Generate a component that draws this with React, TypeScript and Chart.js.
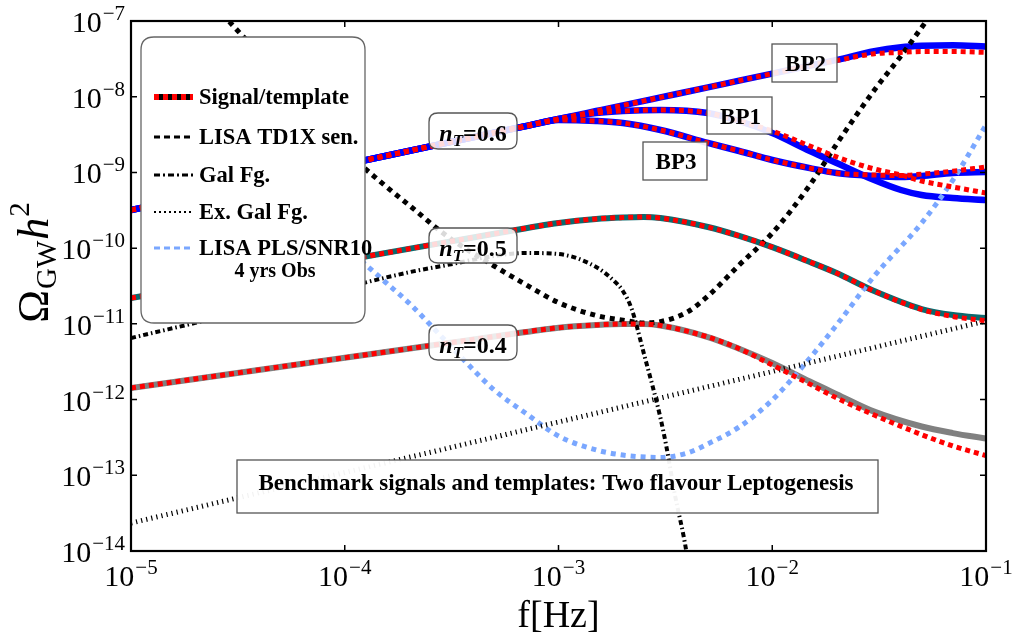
import React, { useEffect, useRef } from "react";
import { Chart, registerables } from "chart.js";

Chart.register(...registerables);

const SERIF = '"Liberation Serif", "Times New Roman", Times, serif';

// ---- axis ticks (powers of ten) ----
const xTickExps = [-5, -4, -3, -2, -1];
const yTickExps = [-14, -13, -12, -11, -10, -9, -8, -7];

// ---- Benchmark points (n_T = 0.6 family) ----
const fBP = [1e-5, 1e-4, 3e-4, 5e-4, 7e-4, 1e-3, 1.5e-3, 2e-3, 3e-3, 5e-3, 7e-3, 1e-2, 1.5e-2, 2e-2, 3e-2, 4e-2, 5e-2, 7e-2, 1e-1];
const bp2Signal = [3.19e-10, 1.27e-9, 2.46e-9, 3.34e-9, 4.08e-9, 5.07e-9, 6.47e-9, 7.69e-9, 9.8e-9, 1.33e-8, 1.63e-8, 2.02e-8, 2.58e-8, 3.06e-8, 4.0e-8, 4.5e-8, 4.7e-8, 4.8e-8, 4.6e-8];
const bp2Template = [3.19e-10, 1.27e-9, 2.46e-9, 3.34e-9, 4.08e-9, 5.07e-9, 6.47e-9, 7.69e-9, 9.8e-9, 1.33e-8, 1.63e-8, 2.02e-8, 2.58e-8, 3.0e-8, 3.7e-8, 3.85e-8, 3.95e-8, 3.95e-8, 3.85e-8];
const bp1Signal = [3.19e-10, 1.27e-9, 2.46e-9, 3.34e-9, 4.08e-9, 5.07e-9, 6.09e-9, 6.48e-9, 6.68e-9, 6.09e-9, 4.78e-9, 3.32e-9, 1.92e-9, 1.33e-9, 7.94e-10, 5.86e-10, 5.03e-10, 4.59e-10, 4.32e-10];
const bp1Template = [3.19e-10, 1.27e-9, 2.46e-9, 3.34e-9, 4.08e-9, 5.07e-9, 6.09e-9, 6.48e-9, 6.68e-9, 6.09e-9, 4.78e-9, 3.52e-9, 2.23e-9, 1.6e-9, 1.11e-9, 9.24e-10, 7.7e-10, 6.42e-10, 5.35e-10];
const bp3Signal = [3.19e-10, 1.27e-9, 2.46e-9, 3.34e-9, 4.08e-9, 4.93e-9, 4.78e-9, 4.49e-9, 3.63e-9, 2.45e-9, 1.92e-9, 1.46e-9, 1.14e-9, 9.82e-10, 8.97e-10, 8.7e-10, 8.97e-10, 9.82e-10, 1.01e-9];
const bp3Template = [3.19e-10, 1.27e-9, 2.46e-9, 3.34e-9, 4.08e-9, 4.93e-9, 4.78e-9, 4.49e-9, 3.63e-9, 2.45e-9, 1.92e-9, 1.46e-9, 1.14e-9, 9.82e-10, 9.24e-10, 9.1e-10, 9.5e-10, 1.04e-9, 1.18e-9];

// ---- n_T = 0.5 and 0.4 curves ----
const fN = [1e-5, 1e-4, 3e-4, 5e-4, 1e-3, 1.5e-3, 2e-3, 2.5e-3, 3e-3, 5e-3, 7e-3, 1e-2, 1.5e-2, 2e-2, 3e-2, 5e-2, 7e-2, 1e-1];
const nt05Signal = [2.19e-11, 6.93e-11, 1.2e-10, 1.55e-10, 2.15e-10, 2.43e-10, 2.54e-10, 2.58e-10, 2.5e-10, 1.9e-10, 1.45e-10, 1.03e-10, 6.56e-11, 4.69e-11, 2.71e-11, 1.57e-11, 1.31e-11, 1.19e-11];
const nt05Template = [2.19e-11, 6.93e-11, 1.2e-10, 1.55e-10, 2.15e-10, 2.43e-10, 2.54e-10, 2.58e-10, 2.5e-10, 1.9e-10, 1.45e-10, 1.03e-10, 6.56e-11, 4.69e-11, 2.71e-11, 1.55e-11, 1.25e-11, 1.1e-11];
const nt04Signal = [1.42e-12, 3.57e-12, 5.54e-12, 6.79e-12, 8.9e-12, 9.66e-12, 9.95e-12, 9.95e-12, 9.51e-12, 6.7e-12, 4.7e-12, 3.04e-12, 1.73e-12, 1.18e-12, 6.93e-13, 4.41e-13, 3.61e-13, 3.05e-13];
const nt04Template = [1.42e-12, 3.57e-12, 5.54e-12, 6.79e-12, 8.9e-12, 9.66e-12, 9.95e-12, 9.95e-12, 9.51e-12, 6.7e-12, 4.7e-12, 2.86e-12, 1.6e-12, 1.05e-12, 6.25e-13, 3.44e-13, 2.44e-13, 1.82e-13];

// ---- LISA TD1X sensitivity ----
const fLisa = [2e-5, 3e-5, 5e-5, 7e-5, 1e-4, 1.5e-4, 2e-4, 3e-4, 5e-4, 7e-4, 1e-3, 1.5e-3, 2e-3, 2.5e-3, 3e-3, 4e-3, 5e-3, 7e-3, 1e-2, 1.5e-2, 2e-2, 3e-2, 4e-2, 5e-2, 7e-2];
const lisaSens = [3.0e-7, 8.67e-8, 1.87e-8, 6.56e-9, 2.0e-9, 7.16e-10, 3.69e-10, 1.45e-10, 5.81e-11, 3.33e-11, 1.91e-11, 1.29e-11, 1.12e-11, 1.03e-11, 1.07e-11, 1.43e-11, 2.33e-11, 5.98e-11, 1.58e-10, 6.82e-10, 2.37e-9, 1.22e-8, 3.45e-8, 8.2e-8, 3.0e-7];

// ---- Galactic foreground ----
const fGal = [1e-5, 2e-5, 5e-5, 1e-4, 2e-4, 3e-4, 5e-4, 7e-4, 1e-3, 1.5e-3, 1.8e-3, 2e-3, 2.2e-3, 2.5e-3, 3e-3, 3.2e-3, 3.5e-3, 4e-3, 4.5e-3];
const galFg = [6.5e-12, 1.03e-11, 1.9e-11, 3.02e-11, 4.8e-11, 5.98e-11, 7.87e-11, 8.63e-11, 8.36e-11, 5.64e-11, 3.79e-11, 2.72e-11, 1.57e-11, 4.2e-12, 5.7e-13, 2.36e-13, 5.65e-14, 8.3e-15, 5e-16];

// ---- Extra-galactic foreground ----
const fExGal = [1e-5, 1e-1];
const exGalFg = [2.34e-14, 1.09e-11];

// ---- LISA power-law sensitivity (SNR 10, 4 yrs) ----
const fPLS = [5e-5, 1e-4, 1.5e-4, 2e-4, 3e-4, 5e-4, 7e-4, 1e-3, 1.5e-3, 2e-3, 3e-3, 4e-3, 5e-3, 7e-3, 1e-2, 1.5e-2, 2e-2, 3e-2, 5e-2, 7e-2, 1e-1];
const lisaPLS = [1.5e-9, 1.13e-10, 3.86e-11, 1.88e-11, 5.75e-12, 1.34e-12, 6.64e-13, 3.3e-13, 2.16e-13, 1.85e-13, 1.72e-13, 1.97e-13, 2.6e-13, 4.34e-13, 9.86e-13, 3.54e-12, 9.66e-12, 4.29e-11, 2.15e-10, 7.94e-10, 4.23e-9];

const legendLabels = ["Signal/template", "LISA TD1X sen.", "Gal Fg.", "Ex. Gal Fg.", "LISA PLS/SNR10", "4 yrs Obs"];
const nTLabels = ["0.6", "0.5", "0.4"];
const bpLabels = ["BP2", "BP1", "BP3"];
const titleText = "Benchmark signals and templates: Two flavour Leptogenesis";

const RED = "#ff0000";
const BLUE = "#0000ff";
const TEAL = "#0b6a6e";
const GRAY = "#808080";
const LBLUE = "#7aa7ff";

const toPts = (f: number[], v: number[]) => f.map((x, i) => ({ x, y: v[i] }));

function ds(data: any[], color: string, width: number, dash: number[] = []) {
  return {
    data,
    borderColor: color,
    backgroundColor: color,
    borderWidth: width,
    borderDash: dash,
    borderCapStyle: "butt",
    borderJoinStyle: "round",
    pointRadius: 0,
    fill: false,
    cubicInterpolationMode: "monotone",
    clip: 0,
  };
}

function roundRect(ctx: CanvasRenderingContext2D, x: number, y: number, w: number, h: number, r: number) {
  ctx.beginPath();
  ctx.moveTo(x + r, y);
  ctx.lineTo(x + w - r, y);
  ctx.quadraticCurveTo(x + w, y, x + w, y + r);
  ctx.lineTo(x + w, y + h - r);
  ctx.quadraticCurveTo(x + w, y + h, x + w - r, y + h);
  ctx.lineTo(x + r, y + h);
  ctx.quadraticCurveTo(x, y + h, x, y + h - r);
  ctx.lineTo(x, y + r);
  ctx.quadraticCurveTo(x, y, x + r, y);
  ctx.closePath();
}

function drawPow(ctx: CanvasRenderingContext2D, exp: number, x: number, baseY: number, align: "right" | "center") {
  const base = "10";
  const sup = "\u2212" + Math.abs(exp);
  ctx.font = `30px ${SERIF}`;
  const wb = ctx.measureText(base).width;
  ctx.font = `21px ${SERIF}`;
  const ws = ctx.measureText(sup).width;
  const total = wb + 1 + ws;
  const start = align === "right" ? x - total : x - total / 2;
  ctx.textAlign = "left";
  ctx.textBaseline = "alphabetic";
  ctx.font = `30px ${SERIF}`;
  ctx.fillText(base, start, baseY);
  ctx.font = `21px ${SERIF}`;
  ctx.fillText(sup, start + wb + 1, baseY - 12);
}

const decorPlugin = {
  id: "decor",
  afterDraw(chart: any) {
    const ctx: CanvasRenderingContext2D = chart.ctx;
    const a = chart.chartArea;
    const xs = chart.scales.x;
    const ys = chart.scales.y;
    ctx.save();
    ctx.fillStyle = "#000";
    ctx.strokeStyle = "#000";

    // inward ticks
    ctx.lineWidth = 1.5;
    ctx.setLineDash([]);
    ctx.beginPath();
    for (const e of xTickExps) {
      const px = xs.getPixelForValue(Math.pow(10, e));
      ctx.moveTo(px, a.bottom);
      ctx.lineTo(px, a.bottom - 6);
      ctx.moveTo(px, a.top);
      ctx.lineTo(px, a.top + 6);
    }
    for (const e of yTickExps) {
      const py = ys.getPixelForValue(Math.pow(10, e));
      ctx.moveTo(a.left, py);
      ctx.lineTo(a.left + 6, py);
      ctx.moveTo(a.right, py);
      ctx.lineTo(a.right - 6, py);
    }
    ctx.stroke();

    // tick labels
    for (const e of xTickExps) {
      const px = xs.getPixelForValue(Math.pow(10, e));
      drawPow(ctx, e, px, a.bottom + 35, "center");
    }
    for (const e of yTickExps) {
      const py = ys.getPixelForValue(Math.pow(10, e));
      drawPow(ctx, e, a.left - 6, py + 11, "right");
    }

    // x title
    ctx.font = `38px ${SERIF}`;
    ctx.textAlign = "center";
    ctx.textBaseline = "alphabetic";
    ctx.fillText("f[Hz]", (a.left + a.right) / 2, 627);

    // y title  Omega_GW h^2 (rotated)
    ctx.save();
    ctx.translate(48, 262);
    ctx.rotate(-Math.PI / 2);
    const segs = [
      { t: "\u03A9", f: `44px ${SERIF}`, dy: 0 },
      { t: "GW", f: `29px ${SERIF}`, dy: 8 },
      { t: "h", f: `italic 44px ${SERIF}`, dy: 0 },
      { t: "2", f: `29px ${SERIF}`, dy: -19 },
    ];
    let tot = 0;
    const ws: number[] = [];
    for (const s of segs) {
      ctx.font = s.f;
      const w = ctx.measureText(s.t).width;
      ws.push(w);
      tot += w + 1;
    }
    let cx = -tot / 2;
    ctx.textAlign = "left";
    segs.forEach((s, i) => {
      ctx.font = s.f;
      ctx.fillText(s.t, cx, s.dy);
      cx += ws[i] + 1;
    });
    ctx.restore();

    // legend box
    ctx.setLineDash([]);
    roundRect(ctx, 141, 37, 224, 286, 13);
    ctx.fillStyle = "#ffffff";
    ctx.fill();
    ctx.strokeStyle = "#666";
    ctx.lineWidth = 1.3;
    ctx.stroke();

    const lx0 = 154, lx1 = 193;
    const sample = (y: number, color: string, w: number, dash: number[]) => {
      ctx.strokeStyle = color;
      ctx.lineWidth = w;
      ctx.lineCap = "butt";
      ctx.setLineDash(dash);
      ctx.beginPath();
      ctx.moveTo(lx0, y);
      ctx.lineTo(lx1, y);
      ctx.stroke();
    };
    sample(97, "#000", 6, []);
    sample(97, RED, 6, [5, 4]);
    sample(137, "#000", 3, [6, 4]);
    sample(175, "#000", 3, [6, 3, 2, 3]);
    sample(212, "#000", 2, [2, 3]);
    sample(248, LBLUE, 3, [6, 4]);
    ctx.setLineDash([]);

    ctx.fillStyle = "#000";
    ctx.font = `bold 22.5px ${SERIF}`;
    ctx.textAlign = "left";
    ctx.textBaseline = "alphabetic";
    const ly = [97, 137, 175, 212, 248];
    for (let i = 0; i < 5; i++) ctx.fillText(legendLabels[i], 199, ly[i] + 7);
    ctx.font = `bold 20px ${SERIF}`;
    ctx.textAlign = "center";
    ctx.fillText(legendLabels[5], 275, 277);

    // n_T boxes
    const nBoxes = [
      { y: 113, h: 36 },
      { y: 228, h: 35 },
      { y: 325, h: 35 },
    ];
    nBoxes.forEach((b, i) => {
      roundRect(ctx, 429, b.y, 88, b.h, 9);
      ctx.fillStyle = "rgba(255,255,255,0.85)";
      ctx.fill();
      ctx.strokeStyle = "#555";
      ctx.lineWidth = 1.3;
      ctx.stroke();
      const parts = [
        { t: "n", f: `italic bold 24px ${SERIF}`, dy: 0 },
        { t: "T", f: `italic bold 17px ${SERIF}`, dy: 5 },
        { t: "=" + nTLabels[i], f: `bold 24px ${SERIF}`, dy: 0 },
      ];
      let tw = 0;
      const pw: number[] = [];
      for (const p of parts) {
        ctx.font = p.f;
        const w = ctx.measureText(p.t).width;
        pw.push(w);
        tw += w;
      }
      let px = 473 - tw / 2;
      const base = b.y + b.h / 2 + 10;
      ctx.fillStyle = "#000";
      ctx.textAlign = "left";
      parts.forEach((p, k) => {
        ctx.font = p.f;
        ctx.fillText(p.t, px, base + p.dy);
        px += pw[k];
      });
    });

    // BP boxes
    const bpBoxes = [
      { x: 772, y: 44, w: 65, h: 38 },
      { x: 707, y: 97, w: 65, h: 37 },
      { x: 643, y: 142, w: 64, h: 38 },
    ];
    bpBoxes.forEach((b, i) => {
      ctx.fillStyle = "rgba(255,255,255,0.9)";
      ctx.fillRect(b.x, b.y, b.w, b.h);
      ctx.strokeStyle = "#555";
      ctx.lineWidth = 1.3;
      ctx.strokeRect(b.x, b.y, b.w, b.h);
      ctx.fillStyle = "#000";
      ctx.font = `bold 23px ${SERIF}`;
      ctx.textAlign = "center";
      ctx.fillText(bpLabels[i], b.x + b.w / 2 + 1, b.y + b.h / 2 + 8);
    });

    // bottom title box
    ctx.fillStyle = "rgba(255,255,255,0.95)";
    ctx.fillRect(237, 460, 641, 53);
    ctx.strokeStyle = "#555";
    ctx.lineWidth = 1.3;
    ctx.strokeRect(237, 460, 641, 53);
    ctx.fillStyle = "#000";
    ctx.font = `bold 23px ${SERIF}`;
    ctx.textAlign = "center";
    ctx.fillText(titleText, 556, 490);

    // frame
    ctx.strokeStyle = "#000";
    ctx.lineWidth = 2.2;
    ctx.setLineDash([]);
    ctx.strokeRect(a.left, a.top, a.right - a.left, a.bottom - a.top);

    ctx.restore();
  },
};

export default function App() {
  const ref = useRef<HTMLCanvasElement | null>(null);

  useEffect(() => {
    const canvas = ref.current;
    if (!canvas) return;
    const datasets: any[] = [
      ds(toPts(fBP, bp2Template), RED, 5, [5, 4]),
      ds(toPts(fBP, bp1Template), RED, 5, [5, 4]),
      ds(toPts(fBP, bp3Template), RED, 5, [5, 4]),
      ds(toPts(fN, nt05Template), RED, 5, [5, 4]),
      ds(toPts(fN, nt04Template), RED, 5, [5, 4]),
      ds(toPts(fLisa, lisaSens), "#000", 5, [5, 5]),
      ds(toPts(fGal, galFg), "#000", 4, [5, 3, 1.5, 3]),
      ds(toPts(fExGal, exGalFg), "#000", 5, [1.2, 4]),
      ds(toPts(fPLS, lisaPLS), LBLUE, 5, [5, 5]),
      ds(toPts(fBP, bp2Signal), BLUE, 6.5),
      ds(toPts(fBP, bp1Signal), BLUE, 6.5),
      ds(toPts(fBP, bp3Signal), BLUE, 6.5),
      ds(toPts(fN, nt05Signal), TEAL, 6),
      ds(toPts(fN, nt04Signal), GRAY, 6),
    ];
    const chart = new Chart(canvas, {
      type: "line",
      data: { datasets },
      options: {
        animation: false,
        responsive: false,
        maintainAspectRatio: false,
        events: [],
        layout: { padding: { top: 21, right: 28, left: 0, bottom: 0 } },
        plugins: {
          legend: { display: false },
          tooltip: { enabled: false },
          title: { display: false },
        },
        elements: { point: { radius: 0 } },
        scales: {
          x: {
            type: "logarithmic",
            min: 1e-5,
            max: 1e-1,
            grid: { display: false },
            border: { display: false },
            ticks: { display: false },
            afterBuildTicks: (s: any) => {
              s.ticks = xTickExps.map((e) => ({ value: Math.pow(10, e) }));
            },
            afterFit: (s: any) => {
              s.height = 87;
            },
          },
          y: {
            type: "logarithmic",
            min: 1e-14,
            max: 1e-7,
            grid: { display: false },
            border: { display: false },
            ticks: { display: false },
            afterBuildTicks: (s: any) => {
              s.ticks = yTickExps.map((e) => ({ value: Math.pow(10, e) }));
            },
            afterFit: (s: any) => {
              s.width = 131;
            },
          },
        },
      } as any,
      plugins: [decorPlugin],
    });
    return () => chart.destroy();
  }, []);

  return (
    <div style={{ position: "absolute", left: 0, top: 0, width: 1014, height: 638, background: "#fff" }}>
      <canvas ref={ref} width={1014} height={638} style={{ width: 1014, height: 638, display: "block" }} />
    </div>
  );
}
